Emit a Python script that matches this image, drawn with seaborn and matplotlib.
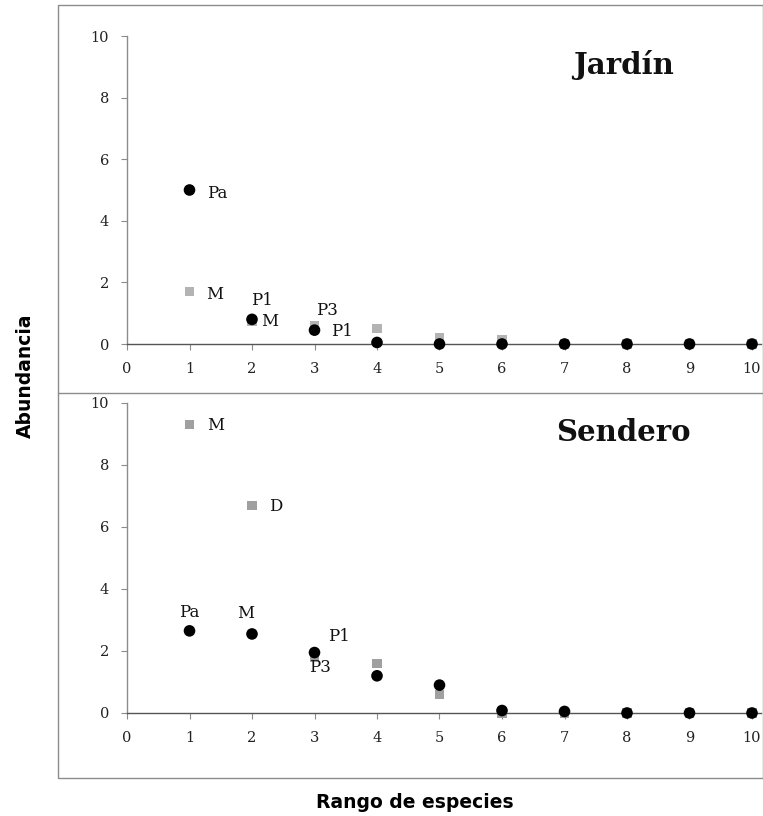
import matplotlib
matplotlib.use("Agg")
import matplotlib.pyplot as plt
import seaborn as sns
import pandas as pd
from matplotlib.patches import Rectangle
from matplotlib.lines import Line2D

sns.set_theme(style="white")
plt.rcParams['font.family'] = ['DejaVu Sans']

ranks = [1, 2, 3, 4, 5, 6, 7, 8, 9, 10]
jardin_black = [5.0, 0.8, 0.45, 0.05, 0.0, 0.0, 0.0, 0.0, 0.0, 0.0]
jardin_gray = [1.7, 0.75, 0.6, 0.5, 0.2, 0.15, 0.0, 0.0, 0.0, 0.0]
sendero_black = [2.65, 2.55, 1.95, 1.2, 0.9, 0.08, 0.05, 0.0, 0.0, 0.0]
sendero_gray = [9.3, 6.7, 1.8, 1.6, 0.6, 0.0, 0.0, 0.0, 0.0, 0.0]
xticks = [0, 1, 2, 3, 4, 5, 6, 7, 8, 9, 10]
yticks = [0, 2, 4, 6, 8, 10]

W, H = 763, 816
fig = plt.figure(figsize=(W / 100, H / 100), dpi=100)

def ax_rect(x0, x10, y0, y10):
    left = x0 / W
    width = (x10 - x0) / W * 1.015
    bottom = 1 - y0 / H
    height = (y0 - y10) / H
    return [left, bottom, width, height]

ax1 = fig.add_axes(ax_rect(127, 752, 344, 36))
ax2 = fig.add_axes(ax_rect(127, 752, 713, 403))

serif = "DejaVu Serif"

def style(ax, title, tx, ty):
    ax.set_xlim(0, 10.15)
    ax.set_ylim(0, 10)
    ax.set_facecolor("none")
    for s in ["top", "right"]:
        ax.spines[s].set_visible(False)
    ax.spines["left"].set_color("#8c8c8c")
    ax.spines["left"].set_linewidth(1.0)
    ax.spines["bottom"].set_color("#555555")
    ax.spines["bottom"].set_linewidth(1.0)
    ax.set_xticks(xticks)
    ax.set_yticks(yticks)
    ax.tick_params(axis="both", direction="out", length=4, width=0.8,
                   color="#8c8c8c", labelsize=10.5, pad=9, left=True, bottom=True)
    for lab in ax.get_xticklabels() + ax.get_yticklabels():
        lab.set_fontfamily(serif)
        lab.set_color("#222222")
    ax.set_xlabel("")
    ax.set_ylabel("")
    ax.text(tx, ty, title, fontsize=21, fontweight="bold", family=serif,
            ha="center", va="center", transform=ax.transData, color="#111111")

def draw(ax, black, gray, gcolor):
    dg = pd.DataFrame({"rank": ranks, "val": gray})
    db = pd.DataFrame({"rank": ranks, "val": black})
    sns.scatterplot(data=dg, x="rank", y="val", ax=ax, marker="s", s=45,
                    color=gcolor, edgecolor="none", clip_on=False, zorder=3)
    sns.scatterplot(data=db, x="rank", y="val", ax=ax, marker="o", s=70,
                    color="black", edgecolor="none", clip_on=False, zorder=4)

draw(ax1, jardin_black, jardin_gray, "#b3b3b3")
draw(ax2, sendero_black, sendero_gray, "#a0a0a0")
style(ax1, "Jardín", 7.95, 9.06)
style(ax2, "Sendero", 7.95, 9.06)

def lab(ax, text, x, y, dx, dy, ha="left"):
    ax.annotate(text, xy=(x, y), xytext=(dx, dy), textcoords="offset pixels",
                fontsize=12, family=serif, ha=ha, va="center", color="#111111")

# Jardín labels
lab(ax1, "Pa", ranks[0], jardin_black[0], 18, -3)
lab(ax1, "M", ranks[0], jardin_gray[0], 17, -3)
lab(ax1, "P1", ranks[1], jardin_black[1], 10, 19, ha="center")
lab(ax1, "M", ranks[1], jardin_black[1], 9, -2)
lab(ax1, "P3", ranks[2], jardin_black[2], 12, 20, ha="center")
lab(ax1, "P1", ranks[2], jardin_black[2], 17, -1)

# Sendero labels
lab(ax2, "M", ranks[0], sendero_gray[0], 18, -1)
lab(ax2, "D", ranks[1], sendero_gray[1], 17, -1)
lab(ax2, "Pa", ranks[0], sendero_black[0], 0, 18, ha="center")
lab(ax2, "M", ranks[1], sendero_black[1], -6, 20, ha="center")
lab(ax2, "P1", ranks[2], sendero_black[2], 24, 16, ha="center")
lab(ax2, "P3", ranks[2], sendero_black[2], 5, -15, ha="center")

# outer frame and divider
fig.patches.append(Rectangle((58 / W, 1 - 778 / H), (763 - 58) / W, (778 - 5) / H,
                             transform=fig.transFigure, fill=False,
                             edgecolor="#8c8c8c", linewidth=1.0))
fig.lines.append(Line2D([58 / W, 1], [1 - 393 / H, 1 - 393 / H],
                        transform=fig.transFigure, color="#8c8c8c", linewidth=1.0))

fig.text(25 / W, 1 - 376 / H, "Abundancia", rotation=90, ha="center", va="center",
         fontsize=13.5, fontweight="bold", family="DejaVu Sans", color="black")
fig.text(415 / W, 1 - 803 / H, "Rango de especies", ha="center", va="center",
         fontsize=13.5, fontweight="bold", family="DejaVu Sans", color="black")

fig.savefig("out.png", dpi=100)
